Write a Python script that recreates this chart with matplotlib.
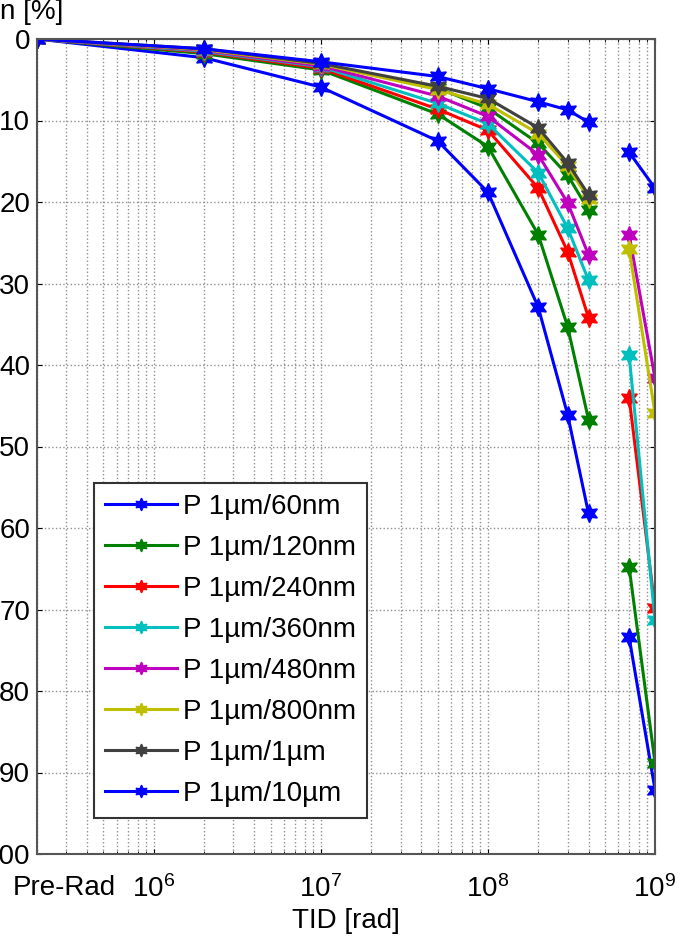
import matplotlib
matplotlib.use('Agg')
import matplotlib.pyplot as plt
import matplotlib.transforms as mtransforms
import numpy as np

plt.rcParams['font.family'] = ['Liberation Sans', 'DejaVu Sans']
plt.rcParams['mathtext.fontset'] = 'custom'
plt.rcParams['mathtext.rm'] = 'Liberation Sans'
plt.rcParams['mathtext.it'] = 'Liberation Sans'

# dose points (Pre-Rad drawn at 2e5)
tid_main = [2e5, 2e6, 1e7, 5e7, 1e8, 2e8, 3e8, 4e8]
tid_high = [7e8, 1e9]

labels = ['P 1\u00b5m/60nm', 'P 1\u00b5m/120nm', 'P 1\u00b5m/240nm', 'P 1\u00b5m/360nm',
          'P 1\u00b5m/480nm', 'P 1\u00b5m/800nm', 'P 1\u00b5m/1\u00b5m', 'P 1\u00b5m/10\u00b5m']
colors = ['#0000ff', '#008000', '#ff0000', '#00bfbf', '#bf00bf', '#bfbf00', '#404040', '#0000ff']

w60 = [0, 2.3, 5.9, 12.5, 18.8, 32.9, 46.1, 58.2]
w120 = [0, 1.8, 3.8, 9.2, 13.2, 24.0, 35.3, 46.7]
w240 = [0, 1.6, 3.6, 8.6, 11.2, 18.3, 26.1, 34.2]
w360 = [0, 1.5, 3.4, 7.9, 10.4, 16.4, 23.2, 29.6]
w480 = [0, 1.4, 3.3, 7.0, 9.5, 14.2, 20.1, 26.5]
w800 = [0, 1.3, 3.1, 6.2, 8.0, 11.6, 15.6, 19.6]
w1u = [0, 1.2, 3.0, 5.8, 7.3, 10.9, 15.2, 19.1]
w10u = [0, 1.2, 2.8, 4.6, 6.1, 7.7, 8.7, 10.2]
extra_green = [0, 1.3, 3.1, 6.0, 8.5, 12.8, 16.7, 21.0]

h60 = [73.4, 92.1]
h120 = [64.8, 88.8]
h240 = [44.0, 69.8]
h360 = [38.8, 71.3]
h480 = [24.0, 41.6]
h800 = [25.8, 45.9]
h10u = [13.9, 18.3]

main = [w60, w120, w240, w360, w480, w800, w1u, w10u]
high = [h60, h120, h240, h360, h480, h800, None, h10u]

fig = plt.figure(figsize=(6.84, 9.43), dpi=100)
ax = fig.add_axes([37/684, 1-854/943, 618/684, 815/943])

star = (6, 1, 0)
kw = dict(linewidth=2.2, marker=star, markersize=13)

ax.plot(tid_main, extra_green, color='#008000', **kw)
for y, yh, c, lab in zip(main, high, colors, labels):
    ax.plot(tid_main, y, color=c, label=lab, **kw)
    if yh is not None:
        ax.plot(tid_high, yh, color=c, **kw)

ax.set_xscale('log')
ax.set_xlim(2e5, 1e9)
ax.set_ylim(100, 0)
ax.set_yticks(np.arange(0, 101, 10))
ax.set_xticks([2e5, 1e6, 1e7, 1e8, 1e9])
ax.set_xticklabels(['Pre-Rad', '$10^6$', '$10^7$', '$10^8$', '$10^9$'])
ax.tick_params(which='both', direction='in', top=True, right=True, labelsize=20)
ax.tick_params(axis='x', pad=15)
ax.tick_params(axis='y', pad=5)
ax.grid(True, which='major', linestyle=':', color='#909090', linewidth=1)
ax.grid(True, which='minor', axis='x', linestyle=':', color='#909090', linewidth=1)
for s in ax.spines.values():
    s.set_color('#555555')
    s.set_linewidth(1.5)

# shift the Pre-Rad label right, like the original
lbl = ax.get_xticklabels()[0]
lbl.set_transform(lbl.get_transform() + mtransforms.ScaledTranslation(0.27, 0, fig.dpi_scale_trans))

ax.set_xlabel('TID [rad]', fontsize=20, labelpad=4)
fig.text(0.0, 1-12/943, 'n [%]', ha='left', va='center', fontsize=20)

leg = ax.legend(loc='lower left', bbox_to_anchor=(0.092, 0.044), borderaxespad=0,
                fontsize=20, handlelength=2.6, handletextpad=0.2, labelspacing=0.54,
                markerscale=0.7, fancybox=False, edgecolor='#333333', framealpha=1,
                borderpad=0.4)
leg.get_frame().set_linewidth(1.5)

plt.savefig('out.png', dpi=100)
